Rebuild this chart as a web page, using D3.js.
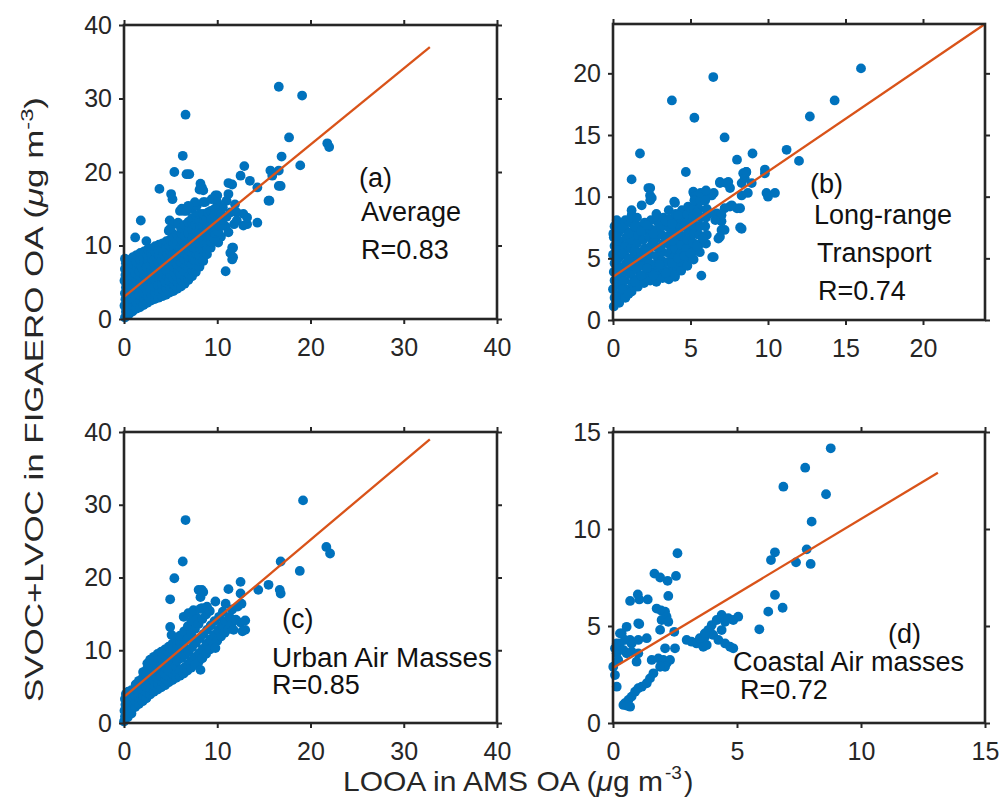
<!DOCTYPE html>
<html><head><meta charset="utf-8">
<script src="https://cdn.jsdelivr.net/npm/d3@7"></script>
<style>
body{margin:0;background:#fff}
text{font-family:"Liberation Sans",Arial,Helvetica,sans-serif}
</style>
</head><body>
<svg id="chart" width="1003" height="812"></svg>
<script>
// ---------------- DATA ----------------
const ticksA = [0,10,20,30,40];
const ticksB = [0,5,10,15,20];
const ticksD = [0,5,10,15];

// (a) Average
const avgPoints = [
[16.6,31.6],[19.1,30.4],[6.6,27.8],[6.3,22.2],[17.7,24.7],[21.8,23.9],[22.0,23.4],[16.9,22.1],[18.9,20.9],
[5.4,20.0],[6.7,19.7],[7.0,19.7],[3.8,17.7],[5.05,17.0],[5.2,16.3],[8.2,18.4],[8.35,17.9],[8.1,17.6],
[12.9,20.8],[12.5,19.5],[13.5,18.8],[14.3,17.9],[15.7,20.2],[15.9,19.5],[16.8,18.1],[15.6,16.1],[14.3,13.1],
[11.2,18.5],[11.6,18.3],[10.0,16.8],[11.0,16.1],[11.9,15.6],[12.8,14.3],[13.2,12.9],[11.8,12.9],[11.7,9.7],
[11.7,8.4],[10.9,6.5],[1.8,13.4],[1.2,11.1],[4.8,12.0],[6.0,14.7],[6.4,14.7],[7.3,15.0],[7.8,15.4],[8.5,15.9],
[4.9,13.4],[5.3,12.9],[16.6,20.2],[16.6,18.1],[15.5,16.1],[11.2,17.0],[9.8,16.8],[9.4,16.3],[10.0,15.9],[8.7,15.9],
[8.5,17.5],[7.6,15.9],[6.9,15.4],[6.2,15.0],[6.7,14.7],[11.4,14.5],[12.1,14.5],[13.2,13.8],[12.1,13.4],[12.8,12.7],
[11.6,9.7],[11.4,9.0],[11.6,8.1],[4.9,12.2],[5.1,11.8],[5.8,13.1],[2.4,10.6],[10.6,15.2],[10.3,14.6],[11.0,13.9],
[10.9,12.6],[10.4,11.2],[11.2,11.8],[10.1,10.4],
[0.1,0.2],[0.2,1.0],[0.05,1.8],[0.15,2.7],[0.1,3.5],[0.2,4.3],[0.05,5.2],[0.15,6.0],[0.1,6.8],[0.2,7.6],[0.1,8.2],
[0.5,0.6],[0.55,1.5],[0.45,2.3],[0.6,3.1],[0.5,3.9],[0.45,4.7],[0.6,5.6],[0.5,6.4],[0.55,7.2],[0.45,8.0],
[0.9,1.0],[0.95,1.9],[0.85,2.7],[1.0,3.5],[0.9,4.3],[0.95,5.1],[0.85,5.9],[1.0,6.7],[0.9,7.5],[0.95,8.4],
[1.3,1.4],[1.35,2.2],[1.25,3.0],[1.4,3.8],[1.3,4.6],[1.35,5.4],[1.25,6.2],[1.4,7.0],[1.3,7.8],[1.35,8.7],
[1.7,1.6],[1.75,2.5],[1.65,3.3],[1.8,4.1],[1.7,4.9],[1.75,5.7],[1.65,6.5],[1.8,7.3],[1.7,8.1],[1.75,9.0],
[2.1,1.9],[2.15,2.8],[2.05,3.6],[2.2,4.4],[2.1,5.2],[2.15,6.0],[2.05,6.8],[2.2,7.6],[2.1,8.4],[2.15,9.2],
[2.5,2.2],[2.55,3.1],[2.45,3.9],[2.6,4.7],[2.5,5.5],[2.55,6.3],[2.45,7.1],[2.6,7.9],[2.5,8.7],[2.55,9.5],
[2.9,2.5],[2.95,3.3],[2.85,4.1],[3.0,4.9],[2.9,5.7],[2.95,6.5],[2.85,7.3],[3.0,8.1],[2.9,8.9],[2.95,9.6],
[3.3,2.7],[3.35,3.6],[3.25,4.4],[3.4,5.2],[3.3,6.0],[3.35,6.8],[3.25,7.6],[3.4,8.4],[3.3,9.2],[3.35,9.9],
[3.7,2.9],[3.75,3.8],[3.65,4.6],[3.8,5.4],[3.7,6.2],[3.75,7.0],[3.65,7.8],[3.8,8.6],[3.7,9.4],[3.75,10.1],
[4.1,3.1],[4.15,4.0],[4.05,4.8],[4.2,5.6],[4.1,6.4],[4.15,7.2],[4.05,8.0],[4.2,8.8],[4.1,9.6],[4.15,10.3],
[4.5,3.3],[4.55,4.2],[4.45,5.0],[4.6,5.8],[4.5,6.6],[4.55,7.4],[4.45,8.2],[4.6,9.0],[4.5,9.8],[4.55,10.6],
[4.9,3.6],[4.95,4.4],[4.85,5.2],[5.0,6.0],[4.9,6.8],[4.95,7.6],[4.85,8.4],[5.0,9.2],[4.9,10.0],[4.95,10.8],
[5.3,3.8],[5.35,4.7],[5.25,5.5],[5.4,6.3],[5.3,7.1],[5.35,7.9],[5.25,8.7],[5.4,9.5],[5.3,10.3],[5.35,11.1],
[5.7,4.1],[5.75,5.0],[5.65,5.8],[5.8,6.6],[5.7,7.4],[5.75,8.2],[5.65,9.0],[5.8,9.8],[5.7,10.6],[5.75,11.4],
[6.1,4.4],[6.15,5.3],[6.05,6.1],[6.2,6.9],[6.1,7.7],[6.15,8.5],[6.05,9.3],[6.2,10.1],[6.1,10.9],[6.15,11.7],[6.1,12.4],
[6.5,4.8],[6.55,5.7],[6.45,6.5],[6.6,7.3],[6.5,8.1],[6.55,8.9],[6.45,9.7],[6.6,10.5],[6.5,11.3],[6.55,12.1],[6.5,12.8],
[6.9,5.3],[6.95,6.1],[6.85,6.9],[7.0,7.7],[6.9,8.5],[6.95,9.3],[6.85,10.1],[7.0,10.9],[6.9,11.7],[6.95,12.5],[6.9,13.2],
[7.3,5.8],[7.35,6.6],[7.25,7.4],[7.4,8.2],[7.3,9.0],[7.35,9.8],[7.25,10.6],[7.4,11.4],[7.3,12.2],[7.35,13.0],[7.3,13.7],
[7.7,6.4],[7.75,7.2],[7.65,8.0],[7.8,8.8],[7.7,9.6],[7.75,10.4],[7.65,11.2],[7.8,12.0],[7.7,12.8],[7.75,13.6],[7.7,14.1],
[8.1,7.1],[8.15,7.9],[8.05,8.7],[8.2,9.5],[8.1,10.3],[8.15,11.1],[8.05,11.9],[8.2,12.7],[8.1,13.5],[8.15,14.3],
[8.5,7.9],[8.55,8.7],[8.45,9.5],[8.6,10.3],[8.5,11.1],[8.55,11.9],[8.45,12.7],[8.6,13.5],[8.5,14.3],
[8.9,8.8],[8.95,9.6],[8.85,10.4],[9.0,11.2],[8.9,12.0],[8.95,12.8],[8.85,13.6],[9.0,14.5],
[9.3,9.7],[9.35,10.5],[9.25,11.3],[9.4,12.1],[9.3,12.9],[9.35,13.7],[9.3,14.7],
[9.7,10.9],[9.75,11.7],[9.65,12.5],[9.8,13.3],[9.7,14.1],[9.75,15.0],
[10.1,11.9],[10.15,12.7],[10.05,13.5],[10.2,14.4],
[10.5,12.7],[10.55,13.5],[10.45,14.3]
];
const avgFit = [[0,3.0],[32.8,37.0]];
const avgNotes = ["(a)","Average","R=0.83"];

// (b) Long-range transport
const lrtPoints = [
[16.0,20.4],[6.47,19.7],[3.8,17.8],[5.25,16.4],[7.2,14.8],[1.74,13.5],[14.3,17.8],[12.7,16.5],[11.2,13.8],
[12.0,12.9],[9.0,13.5],[8.0,13.0],[4.7,12.0],[1.2,11.4],[9.8,12.2],[8.6,12.0],[9.9,10.3],[10.0,10.0],[10.45,10.3],
[2.4,10.7],[2.4,9.7],[1.85,9.3],[1.2,8.9],[4.0,9.5],[5.2,10.3],[5.8,9.7],[6.5,10.3],[6.9,11.2],[7.3,11.1],
[8.4,11.9],[8.3,7.4],[6.5,5.1],[5.7,3.6],[7.55,9.2],[8.0,9.05],[6.7,8.65],[7.0,8.0],[7.2,7.3],[6.8,6.6],
[0.24,8.1],[0.02,7.0],[5.18,10.4],[5.29,10.0],[5.5,9.6],[5.94,9.86],[6.37,10.1],[6.9,11.1],[7.44,11.2],[7.55,10.7],
[8.3,11.1],[8.5,11.5],[8.6,12.0],[8.95,11.1],[8.7,10.3],[8.3,10.1],[9.8,11.9],[7.66,9.3],[8.2,9.06],[7.2,9.06],
[7.0,8.5],[6.6,8.1],[7.0,7.3],[6.9,6.75],[8.2,7.5],[6.4,5.1],[5.2,8.9],[5.4,7.6],[5.1,6.2],[4.65,4.9],[4.0,3.5],
[2.28,10.7],[2.39,10.1],[2.5,9.9],[3.95,9.6],[4.97,8.25],[5.4,7.3],[5.18,7.0],[5.94,8.4],[6.26,8.65],
[0.05,1.1],[0.1,1.8],[0.0,2.5],[0.1,3.2],[0.05,3.9],[0.1,4.6],[0.0,5.3],[0.1,6.0],[0.05,6.7],[0.1,7.6],
[0.4,1.4],[0.45,2.1],[0.35,2.9],[0.4,3.6],[0.45,4.3],[0.35,5.0],[0.4,5.7],[0.45,6.4],[0.35,7.1],[0.4,7.9],
[0.8,1.8],[0.85,2.5],[0.75,3.2],[0.8,3.9],[0.85,4.6],[0.75,5.3],[0.8,6.0],[0.85,6.7],[0.75,7.4],[0.8,8.1],
[1.2,2.3],[1.25,3.0],[1.15,3.7],[1.2,4.4],[1.25,5.1],[1.15,5.8],[1.2,6.5],[1.25,7.2],[1.15,7.9],[1.2,8.5],
[1.6,2.7],[1.65,3.4],[1.55,4.1],[1.6,4.8],[1.65,5.5],[1.55,6.2],[1.6,6.9],[1.65,7.6],[1.55,8.3],
[2.0,3.0],[2.05,3.7],[1.95,4.4],[2.0,5.1],[2.05,5.8],[1.95,6.5],[2.0,7.2],[2.05,7.9],
[2.4,3.2],[2.45,3.9],[2.35,4.6],[2.4,5.3],[2.45,6.0],[2.35,6.7],[2.4,7.4],[2.45,8.1],
[2.8,3.1],[2.85,3.8],[2.75,4.5],[2.8,5.2],[2.85,5.9],[2.75,6.6],[2.8,7.3],[2.85,8.0],[2.8,8.6],
[3.2,3.4],[3.25,4.1],[3.15,4.8],[3.2,5.5],[3.25,6.2],[3.15,6.9],[3.2,7.6],[3.25,8.3],
[3.6,3.3],[3.65,4.0],[3.55,4.7],[3.6,5.4],[3.65,6.1],[3.55,6.8],[3.6,7.5],[3.65,8.2],[3.6,8.9],
[4.0,3.7],[4.05,4.4],[3.95,5.1],[4.0,5.8],[4.05,6.5],[3.95,7.2],[4.0,7.9],[4.05,8.6],
[4.4,4.0],[4.45,4.7],[4.35,5.4],[4.4,6.1],[4.45,6.8],[4.35,7.5],[4.4,8.2],[4.45,8.9],
[4.8,4.4],[4.85,5.1],[4.75,5.8],[4.8,6.5],[4.85,7.2],[4.75,7.9],[4.8,8.6],[4.85,9.2],
[5.2,4.9],[5.25,5.6],[5.15,6.3],[5.2,7.0],[5.25,7.7],[5.15,8.4],[5.2,9.1],[5.25,9.7],
[5.6,5.5],[5.65,6.2],[5.55,6.9],[5.6,7.6],[5.65,8.3],[5.55,9.0],[5.6,9.7],[5.65,10.3],
[6.0,6.2],[6.05,6.9],[5.95,7.6],[6.0,8.3],[6.05,9.0],[5.95,9.7],[6.0,10.5],
[0.2,1.5],[0.6,2.5],[1.0,2.1],[1.4,3.1],[1.8,3.6],[2.2,4.2],[2.6,3.6],[3.0,4.5],[3.4,3.8],[3.8,4.6],[4.2,5.0],
[4.6,5.2],[5.0,5.4],[5.4,6.0],[5.8,6.6],[0.2,4.9],[0.6,5.4],[1.0,4.9],[1.4,5.6],[1.8,5.2],[2.2,5.6],[2.6,6.3],
[3.0,5.9],[3.4,6.5],[3.8,6.4],[4.2,7.0],[4.6,7.6],[5.0,7.8],[5.4,8.7],[0.2,6.8],[0.6,7.5],[1.0,7.0],[1.4,7.6],
[1.8,7.2],[2.2,7.7],[2.6,7.0],[3.0,7.7],[3.4,8.0],[3.8,7.8],[4.2,8.5]
];
const lrtFit = [[0,3.5],[24,24]];
const lrtNotes = ["(b)","Long-range","Transport","R=0.74"];

// (c) Urban air masses
const urbanPoints = [
[0.0,0.2],[0.1,0.9],[0.05,1.7],[0.15,2.5],[0.1,3.3],[0.2,4.0],[0.4,0.8],[0.45,1.6],[0.35,2.4],[0.5,3.2],[0.45,4.3],
[0.8,1.3],[0.85,2.1],[0.75,2.9],[0.9,3.7],[0.8,4.5],[1.2,2.2],[1.25,3.0],[1.15,3.8],[1.3,4.6],[1.25,5.3],
[1.6,2.6],[1.65,3.4],[1.55,4.2],[1.7,5.0],[1.6,5.8],[2.0,3.0],[2.05,3.8],[1.95,4.6],[2.1,5.4],[2.0,6.2],[2.05,7.0],
[2.4,3.4],[2.45,4.2],[2.35,5.0],[2.5,5.8],[2.4,6.6],[2.45,7.4],[2.5,8.2],[2.8,3.9],[2.85,4.7],[2.75,5.5],[2.9,6.3],
[2.8,7.1],[2.85,7.9],[2.8,8.7],[3.2,4.3],[3.25,5.1],[3.15,5.9],[3.3,6.7],[3.2,7.5],[3.25,8.3],[3.2,9.1],
[3.6,4.6],[3.65,5.4],[3.55,6.2],[3.7,7.0],[3.6,7.8],[3.65,8.6],[3.6,9.5],[4.0,4.9],[4.05,5.7],[3.95,6.5],[4.1,7.3],
[4.0,8.1],[4.05,8.9],[4.0,9.8],[4.4,5.2],[4.45,6.0],[4.35,6.8],[4.5,7.6],[4.4,8.4],[4.45,9.2],[4.4,10.1],
[4.8,5.6],[4.85,6.4],[4.75,7.2],[4.9,8.0],[4.8,8.8],[4.85,9.6],[4.8,10.5],[5.2,5.9],[5.25,6.7],[5.15,7.5],[5.3,8.3],
[5.2,9.1],[5.25,9.9],[5.2,10.9],[5.6,6.2],[5.65,7.0],[5.55,7.8],[5.7,8.6],[5.6,9.4],[5.65,10.2],[5.6,11.4],
[6.0,6.5],[6.05,7.3],[6.1,8.9],[6.0,9.7],[6.05,11.1],[6.0,12.0],[6.4,6.8],[6.45,7.6],[6.5,9.3],[6.4,10.5],[6.45,12.6],
[6.8,7.2],[6.85,8.1],[6.9,9.8],[6.8,11.5],[6.85,13.3],[7.2,7.6],[7.25,8.6],[7.3,10.4],[7.2,12.2],[7.25,14.0],
[7.6,8.0],[7.65,9.1],[7.7,11.0],[7.6,12.9],[7.7,14.6],[8.0,8.4],[8.05,9.6],[8.1,11.6],[8.0,13.6],[8.4,8.9],
[8.45,10.2],[8.5,12.2],[8.4,14.3],[8.35,15.8],[8.8,9.5],[8.85,10.9],[8.9,12.8],[8.8,14.9],[9.2,10.1],[9.25,11.5],
[9.3,13.4],[9.2,15.4],[9.6,10.7],[9.65,12.1],[9.7,14.0],[9.8,16.7],[10.0,11.3],[10.1,12.8],[10.2,14.6],[10.4,11.9],
[10.5,13.4],[10.6,15.3],[10.9,16.4],[10.8,12.4],[10.9,14.0],[11.2,12.9],[11.3,14.6],[11.5,13.5],[11.75,12.8],
[11.6,15.6],[12.0,14.2],[12.2,16.0],[12.5,13.8],[12.6,16.4],[13.0,14.1],[13.0,12.8],[12.7,12.6],
[6.4,14.6],[6.9,15.1],[7.45,15.5],[8.2,15.7],[8.9,16.0],
[8.2,7.3],[9.8,10.3],[5.1,12.1],[4.95,13.2],[4.95,17.0],[5.4,19.9],[6.3,22.2],[6.6,27.9],[8.0,18.3],[8.35,18.3],
[8.2,17.3],[8.5,18.0],[11.2,18.4],[12.5,19.4],[12.5,17.8],[14.4,18.3],[15.5,19.0],[16.7,18.3],[16.8,17.8],
[16.8,22.2],[18.85,20.9],[19.2,30.6],[21.7,24.2],[22.1,23.3]
];
const urbanFit = [[0.1,3.7],[32.8,39.0]];
const urbanNotes = ["(c)","Urban Air Masses","R=0.85"];

// (d) Coastal air masses
const coastalPoints = [
[8.78,14.16],[7.75,13.16],[6.87,12.18],[8.59,11.79],[8.01,10.38],[7.81,8.95],[7.97,8.2],[7.38,8.28],[6.53,8.8],
[6.37,8.4],[6.53,6.6],[6.84,5.94],[6.26,5.74],[5.9,4.83],
[2.6,8.75],[1.67,7.7],[1.9,7.5],[2.2,7.33],[2.54,7.58],
[0.69,6.29],[1.0,6.63],[1.06,6.37],[1.4,6.37],[2.23,6.55],
[1.76,5.9],[1.94,5.8],[2.1,5.74],[2.16,5.48],[1.96,5.31],[2.23,5.22],[2.47,4.7],[1.9,4.8],[1.06,5.1],
[0.35,4.62],[0.55,4.96],[1.02,5.14],[0.48,4.28],[0.28,4.1],[0.75,4.1],[1.02,4.28],[1.36,4.37],[0.69,4.28],
[0.15,4.1],[0.28,4.62],
[0.08,3.85],[0.15,3.59],[0.42,3.76],[0.55,3.59],[0.75,3.68],[0.21,3.25],[0.01,2.9],[0.08,2.47],[0.15,1.87],
[0.95,3.16],[1.02,3.59],
[2.1,3.85],[2.5,3.85],[1.56,3.25],[1.83,3.33],[2.03,3.25],[2.16,3.08],[2.3,3.25],[2.1,2.9],[1.9,2.9],[1.63,2.56],
[1.49,2.3],[1.36,2.05],[1.16,1.87],[1.02,1.79],[0.89,1.61],[0.75,1.36],[0.62,1.19],[0.48,1.02],[0.69,0.84],
[0.42,0.93],[0.55,0.9],
[2.97,4.28],[3.17,4.19],[3.37,4.1],[3.58,4.28],[3.64,3.93],[3.78,4.02],[3.71,4.45],[3.84,4.79],[3.98,5.05],
[4.18,5.31],[4.38,5.57],[4.52,5.22],[4.65,5.4],[4.85,5.31],[5.05,5.48],[4.38,4.79],[4.52,4.1],[4.72,3.93],
[4.85,3.85],[4.04,4.54],[4.25,4.28],[3.9,4.79],[3.5,4.37],[3.7,4.62]
];
const coastalFit = [[0,2.83],[13.1,12.9]];
const coastalNotes = ["(d)","Coastal Air masses","R=0.72"];

const xLabelMain = "LOOA in AMS OA (";
const yLabelMain = "SVOC+LVOC in FIGAERO OA (";
const unitMu = "\u03BC", unitRest = "g m", unitExp = "-3", unitClose = ")";

// ---------------- LAYOUT ----------------
const BLUE = "#0072BD", ORANGE = "#D95319", INK = "#262626";
const panels = [
  {pts: avgPoints, fit: avgFit, xd:[0,40], yd:[0,40], xt:ticksA, yt:ticksA,
   l:124, r:497, b:319, t:25, notes: avgNotes,
   pos:[[359,187],[361,221],[361,259]], len:[null,null,null]},
  {pts: lrtPoints, fit: lrtFit, xd:[0,24], yd:[0,24], xt:ticksB, yt:ticksB,
   l:613, r:985, b:320, t:24, notes: lrtNotes,
   pos:[[810,193],[814,224],[817,262],[818,300]], len:[null,null,null,null]},
  {pts: urbanPoints, fit: urbanFit, xd:[0,40], yd:[0,40], xt:ticksA, yt:ticksA,
   l:124, r:497, b:723, t:432, notes: urbanNotes,
   pos:[[282,628],[272,667],[272,694]], len:[null,220,null]},
  {pts: coastalPoints, fit: coastalFit, xd:[0,15], yd:[0,15], xt:ticksD, yt:ticksD,
   l:613, r:985, b:723, t:432, notes: coastalNotes,
   pos:[[888,643],[733,671],[740,699]], len:[null,null,null]}
];

const svg = d3.select("#chart");

panels.forEach(p => {
  const x = d3.scaleLinear().domain(p.xd).range([p.l, p.r]);
  const y = d3.scaleLinear().domain(p.yd).range([p.b, p.t]);
  const g = svg.append("g");

  g.append("g").selectAll("circle").data(p.pts).join("circle")
    .attr("cx", d => x(d[0])).attr("cy", d => y(d[1]))
    .attr("r", 4.9).attr("fill", BLUE);

  g.append("path").datum(p.fit)
    .attr("d", d3.line().x(d => x(d[0])).y(d => y(d[1])))
    .attr("fill", "none").attr("stroke", ORANGE).attr("stroke-width", 2.3);

  const styleAxis = sel => {
    sel.select(".domain").remove();
    sel.selectAll(".tick line").attr("stroke", INK).attr("stroke-width", 2);
    sel.selectAll(".tick text").attr("fill", INK).attr("font-size", 25)
       .attr("font-family", '"Liberation Sans", Arial, sans-serif');
  };
  g.append("g").attr("transform", `translate(0,${p.b})`)
    .call(d3.axisBottom(x).tickValues(p.xt).tickSize(5).tickPadding(14).tickFormat(d3.format("d")))
    .call(styleAxis);
  g.append("g").attr("transform", `translate(0,${p.t})`)
    .call(d3.axisTop(x).tickValues(p.xt).tickSize(5).tickFormat(""))
    .call(styleAxis);
  g.append("g").attr("transform", `translate(${p.l},0)`)
    .call(d3.axisLeft(y).tickValues(p.yt).tickSize(5).tickPadding(7).tickFormat(d3.format("d")))
    .call(styleAxis);
  g.append("g").attr("transform", `translate(${p.r},0)`)
    .call(d3.axisRight(y).tickValues(p.yt).tickSize(5).tickFormat(""))
    .call(styleAxis);

  g.append("rect").attr("x", p.l).attr("y", p.t)
    .attr("width", p.r - p.l).attr("height", p.b - p.t)
    .attr("fill", "none").attr("stroke", INK).attr("stroke-width", 2.6);

  p.notes.forEach((txt, i) => {
    const t = g.append("text").attr("x", p.pos[i][0]).attr("y", p.pos[i][1])
      .attr("font-size", 27).attr("fill", "#111").text(txt);
    if (p.len[i]) t.attr("textLength", p.len[i]).attr("lengthAdjust", "spacingAndGlyphs");
  });
});

// x-axis title (superscript as its own text so it does not reach into the tick labels)
const xMain = svg.append("text").attr("x", 343).attr("y", 791)
  .attr("font-size", 28).attr("fill", INK)
  .attr("textLength", 320).attr("lengthAdjust", "spacingAndGlyphs");
xMain.append("tspan").text(xLabelMain);
xMain.append("tspan").attr("font-style", "italic").text(unitMu);
xMain.append("tspan").text(unitRest);
svg.append("text").attr("x", 665).attr("y", 779).attr("font-size", 19).attr("fill", INK).text(unitExp);
svg.append("text").attr("x", 684).attr("y", 791).attr("font-size", 28).attr("fill", INK).text(unitClose);

// y-axis title
const yt = svg.append("text")
  .attr("transform", "translate(43,702) rotate(-90)")
  .attr("font-size", 25).attr("fill", INK)
  .attr("textLength", 605).attr("lengthAdjust", "spacingAndGlyphs");
yt.append("tspan").text(yLabelMain);
yt.append("tspan").attr("font-style", "italic").text(unitMu);
yt.append("tspan").text(unitRest);
yt.append("tspan").attr("dy", -10).attr("font-size", 17).text(unitExp);
yt.append("tspan").attr("dy", 10).text(unitClose);
</script>
</body></html>
